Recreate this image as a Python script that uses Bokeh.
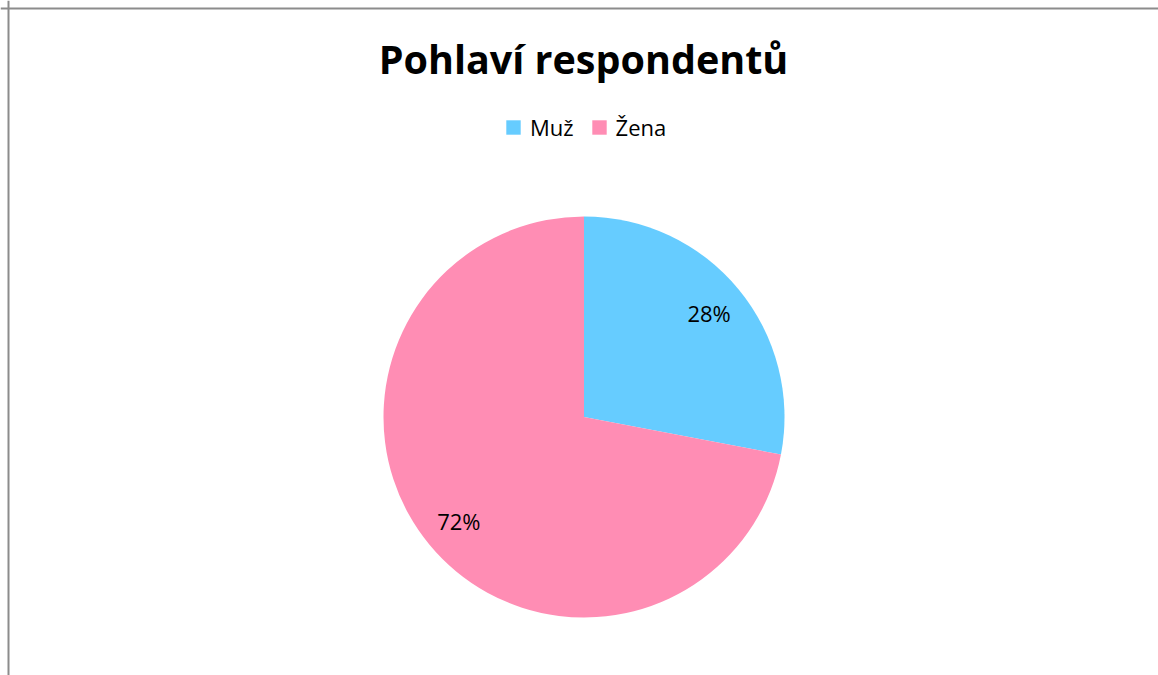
import numpy as np
from bokeh.plotting import figure
from bokeh.models import ColumnDataSource, Range1d, Label, Span
from bokeh.embed import file_html
from bokeh.resources import INLINE
from bokeh.core.properties import value

# ---- data ----
title_text = "Pohlaví respondentů"
categories = ["Muž", "Žena"]
shares = [28, 72]
colors = ["#66CCFF", "#FF8DB4"]

# ---- layout ----
W, H = 1158, 675
CX, CY, R = 583.5, 258.5, 200.5

total = float(sum(shares))
fracs = np.array(shares) / total
cum = np.concatenate([[0.0], np.cumsum(fracs)[:-1]])
end_ang = np.pi / 2 - 2 * np.pi * cum
start_ang = end_ang - 2 * np.pi * fracs
mid = (start_ang + end_ang) / 2
lab_r = 0.81 * R

src = ColumnDataSource(dict(
    cat=categories,
    start=start_ang,
    end=end_ang,
    color=colors,
    lx=CX + lab_r * np.cos(mid),
    ly=CY + lab_r * np.sin(mid),
    txt=[f"{round(f * 100)}%" for f in fracs],
))

p = figure(width=W, height=H, output_backend="svg", toolbar_location=None,
           x_range=Range1d(0, W), y_range=Range1d(0, H), min_border=0)
p.axis.visible = False
p.grid.visible = False
p.outline_line_color = None
p.background_fill_color = "white"
p.border_fill_color = "white"

p.wedge(x=CX, y=CY, radius=R, start_angle="start", end_angle="end",
        fill_color="color", line_color=None, legend_field="cat", source=src)

p.text(x="lx", y="ly", text="txt", source=src, text_align="center",
       text_baseline="middle", text_font=value("Open Sans"),
       text_font_size="22px", text_color="black")

p.add_layout(Label(x=583, y=H - 58, text=title_text, text_align="center",
                   text_baseline="alphabetic", text_font="Open Sans",
                   text_font_style="bold", text_font_size="39.5px",
                   text_color="black"))

# chart area edges (left and top visible in reference)
p.add_layout(Span(location=8, dimension="height", line_color="#8c8c8c", line_width=2))
p.add_layout(Span(location=H - 8, dimension="width", line_color="#8c8c8c", line_width=2))

lg = p.legend[0]
lg.orientation = "horizontal"
lg.location = (504, 533)
lg.border_line_color = None
lg.background_fill_alpha = 0
lg.padding = 0
lg.margin = 0
lg.spacing = 16
lg.glyph_width = 18
lg.glyph_height = 18
lg.label_standoff = 8
lg.label_text_font = "Open Sans"
lg.label_text_font_size = "22px"
lg.label_text_color = "black"

open("out.html", "w").write(file_html(p, INLINE))
